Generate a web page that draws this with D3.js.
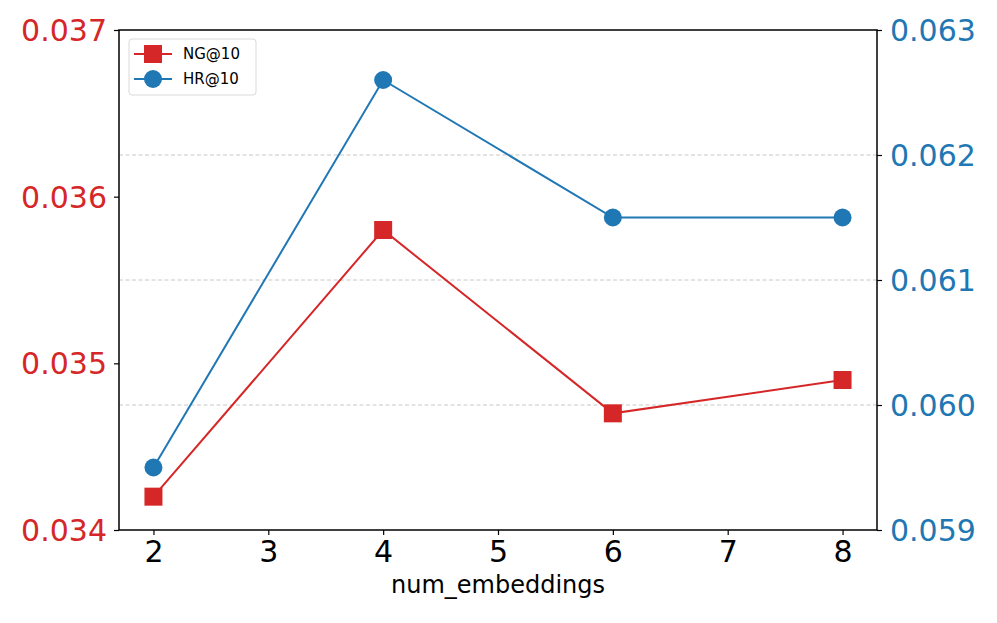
<!DOCTYPE html>
<html><head><meta charset="utf-8">
<script src="https://cdn.jsdelivr.net/npm/d3@7"></script>
<style>body{margin:0;background:#fff;} svg{display:block;font-family:"DejaVu Sans",sans-serif;}</style>
</head><body>
<script>
const xValues = [2, 4, 6, 8];
const ngValues = [0.0342, 0.0358, 0.0347, 0.0349];
const hrValues = [0.0595, 0.0626, 0.0615, 0.0615];
const xTicks = [2, 3, 4, 5, 6, 7, 8];
const leftTicks = [0.034, 0.035, 0.036, 0.037];
const rightTicks = [0.059, 0.060, 0.061, 0.062, 0.063];
const seriesNames = ["NG@10", "HR@10"];
const xLabel = "num_embeddings";

const W = 997, H = 623;
const red = "#d62728", blue = "#1f77b4";
const L = 119, R = 877, T = 30, B = 530;
const svg = d3.select("body").append("svg").attr("width", W).attr("height", H);

const x = d3.scaleLinear().domain([1.7, 8.3]).range([L, R]);
const yL = d3.scaleLinear().domain([0.034, 0.037]).range([B, T]);
const yR = d3.scaleLinear().domain([0.059, 0.063]).range([B, T]);

// grid (right axis)
svg.append("g").selectAll("line").data(rightTicks.slice(1, -1)).join("line")
  .attr("x1", L).attr("x2", R).attr("y1", d => yR(d)).attr("y2", d => yR(d))
  .attr("stroke", "#c8c8c8").attr("stroke-width", 1).attr("stroke-dasharray", "4,2.5");

function styleAxis(g, color) {
  g.select(".domain").remove();
  g.selectAll(".tick line").attr("stroke", "#000").attr("stroke-width", 1.2);
  g.selectAll(".tick text").attr("fill", color).attr("font-family", "DejaVu Sans").attr("font-size", 30);
}
const gx = svg.append("g").attr("transform", `translate(0,${B})`)
  .call(d3.axisBottom(x).tickValues(xTicks).tickFormat(d3.format("d")).tickSize(5).tickPadding(6));
styleAxis(gx, "#000");
const gl = svg.append("g").attr("transform", `translate(${L},0)`)
  .call(d3.axisLeft(yL).tickValues(leftTicks).tickFormat(d3.format(".3f")).tickSize(5).tickPadding(7));
styleAxis(gl, red);
const gr = svg.append("g").attr("transform", `translate(${R},0)`)
  .call(d3.axisRight(yR).tickValues(rightTicks).tickFormat(d3.format(".3f")).tickSize(5).tickPadding(8));
styleAxis(gr, blue);
[gl, gr].forEach(g => g.selectAll(".tick text").attr("dy", "0.35em"));

// frame
svg.append("rect").attr("x", L).attr("y", T).attr("width", R - L).attr("height", B - T)
  .attr("fill", "none").attr("stroke", "#000").attr("stroke-width", 1.5);

svg.append("text").attr("x", 498).attr("y", 593).attr("text-anchor", "middle")
  .attr("font-size", 24).attr("fill", "#000").text(xLabel);

const ngData = xValues.map((v, i) => [v, ngValues[i]]);
const hrData = xValues.map((v, i) => [v, hrValues[i]]);
svg.append("path").datum(ngData).attr("fill", "none").attr("stroke", red).attr("stroke-width", 2)
  .attr("d", d3.line().x(d => x(d[0])).y(d => yL(d[1])));
const sq = 18;
svg.append("g").selectAll("rect").data(ngData).join("rect")
  .attr("x", d => x(d[0]) - sq / 2).attr("y", d => yL(d[1]) - sq / 2)
  .attr("width", sq).attr("height", sq).attr("fill", red);

svg.append("path").datum(hrData).attr("fill", "none").attr("stroke", blue).attr("stroke-width", 2)
  .attr("d", d3.line().x(d => x(d[0])).y(d => yR(d[1])));
svg.append("g").selectAll("circle").data(hrData).join("circle")
  .attr("cx", d => x(d[0])).attr("cy", d => yR(d[1])).attr("r", 9).attr("fill", blue);

// legend
const lg = svg.append("g");
lg.append("rect").attr("x", 129).attr("y", 39).attr("width", 127).attr("height", 56).attr("rx", 3)
  .attr("fill", "#fff").attr("fill-opacity", 0.8).attr("stroke", "#d9d9d9").attr("stroke-width", 1);
const items = [{name: seriesNames[0], color: red, shape: "sq"}, {name: seriesNames[1], color: blue, shape: "c"}];
items.forEach((it, i) => {
  const cy = 54 + i * 25;
  lg.append("line").attr("x1", 134).attr("x2", 172).attr("y1", cy).attr("y2", cy).attr("stroke", it.color).attr("stroke-width", 2);
  if (it.shape === "sq") lg.append("rect").attr("x", 153 - sq / 2).attr("y", cy - sq / 2).attr("width", sq).attr("height", sq).attr("fill", it.color);
  else lg.append("circle").attr("cx", 153).attr("cy", cy).attr("r", 9).attr("fill", it.color);
  lg.append("text").attr("x", 183).attr("y", cy).attr("dy", "0.35em").attr("font-size", 15).attr("fill", "#000").text(it.name);
});
</script>
</body></html>
